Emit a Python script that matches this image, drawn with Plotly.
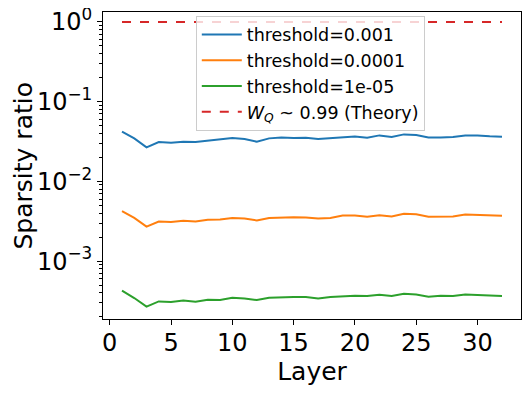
import plotly.graph_objects as go

layers = list(range(1, 33))

thr_1e3 = [0.0418, 0.0345, 0.0266, 0.0311, 0.0305, 0.0313, 0.0311, 0.0323, 0.0332, 0.0349,
           0.0339, 0.0313, 0.0345, 0.0355, 0.0349, 0.0352, 0.0339, 0.0349, 0.0362, 0.0365,
           0.0352, 0.0376, 0.0359, 0.0387, 0.0380, 0.0355, 0.0355, 0.0359, 0.0376, 0.0376,
           0.0367, 0.0362]
thr_1e4 = [0.00422, 0.00348, 0.00271, 0.00313, 0.00310, 0.00320, 0.00313, 0.00329, 0.00332, 0.00348,
           0.00342, 0.00323, 0.00348, 0.00355, 0.00355, 0.00352, 0.00342, 0.00348, 0.00373, 0.00373,
           0.00359, 0.00376, 0.00362, 0.00391, 0.00387, 0.00359, 0.00362, 0.00362, 0.00384, 0.00380,
           0.00373, 0.00369]
thr_1e5 = [0.000426, 0.000345, 0.000269, 0.000313, 0.000307, 0.000322, 0.000310, 0.000329, 0.000325, 0.000348,
           0.000341, 0.000325, 0.000348, 0.000355, 0.000355, 0.000355, 0.000341, 0.000355, 0.000365, 0.000369,
           0.000365, 0.000379, 0.000365, 0.000390, 0.000383, 0.000358, 0.000369, 0.000365, 0.000383, 0.000379,
           0.000376, 0.000365]
theory = 0.99

names = ["threshold=0.001", "threshold=0.0001", "threshold=1e-05"]
colors = ['#1f77b4', '#ff7f0e', '#2ca02c']

fig = go.Figure()
for name, vals, c in zip(names, [thr_1e3, thr_1e4, thr_1e5], colors):
    fig.add_trace(go.Scatter(x=layers, y=vals, mode='lines', name=name,
                             line=dict(color=c, width=2)))
fig.add_trace(go.Scatter(x=layers, y=[theory] * len(layers), mode='lines',
                         name="<i>W</i><sub><i>Q</i></sub> ~ 0.99 (Theory)",
                         line=dict(color='#d62728', width=2, dash='dash')))

minor_vals = [m * 10 ** e for e in range(-4, 1) for m in range(2, 10)]

# page body adds an 8px margin, so the figure is a bit smaller and shifted
fig.update_layout(
    width=523, height=386,
    margin=dict(l=95, r=10, t=4, b=75),
    paper_bgcolor='white', plot_bgcolor='white',
    font=dict(family="DejaVu Sans", color='black', size=24),
    legend=dict(x=0.222, y=0.988, xanchor='left', yanchor='top',
                bgcolor='rgba(255,255,255,0.8)', bordercolor='#cccccc', borderwidth=1,
                font=dict(size=17.5), tracegroupgap=0, itemwidth=40),
    annotations=[dict(text="Sparsity ratio", textangle=-90, xref='paper', yref='paper',
                      x=0, y=0.5, xshift=-80, xanchor='center', yanchor='middle',
                      showarrow=False, font=dict(size=25))],
)
fig.update_xaxes(title_text="Layer", title_font_size=25, range=[-0.55, 33.55], automargin=False,
                 tickvals=[0, 5, 10, 15, 20, 25, 30],
                 showline=True, linecolor='black', linewidth=1, mirror=True,
                 ticks='outside', ticklen=5, tickcolor='black', showgrid=False,
                 zeroline=False, tickfont=dict(size=24), ticklabelstandoff=-3,
                 title_standoff=0)
fig.update_yaxes(type='log', range=[-3.725, 0.121], automargin=False,
                 tickvals=[1e-3, 1e-2, 1e-1, 1],
                 ticktext=["10<sup>−3</sup>", "10<sup>−2</sup>", "10<sup>−1</sup>", "10<sup>0</sup>"],
                 ticklabeloverflow='allow',
                 showline=True, linecolor='black', linewidth=1, mirror=True,
                 ticks='outside', ticklen=5, tickcolor='black', showgrid=False,
                 zeroline=False, tickfont=dict(size=24),
                 minor=dict(ticks='outside', ticklen=3, tickcolor='black',
                            tickvals=minor_vals, showgrid=False))

fig.write_html("out.html")
